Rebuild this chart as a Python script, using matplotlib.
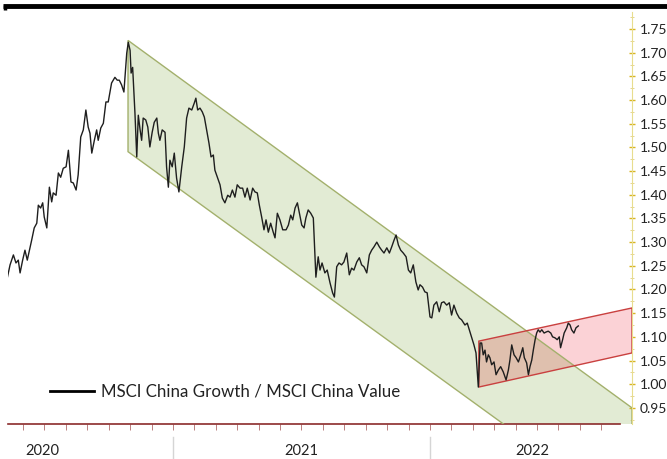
import numpy as np
import matplotlib
matplotlib.use("Agg")
import matplotlib.pyplot as plt
from matplotlib.patches import Polygon
from matplotlib.lines import Line2D

plt.rcParams['font.family'] = ['Lato', 'DejaVu Sans']

# MSCI China Growth / MSCI China Value (x in decimal years)
t = [2020.355, 2020.366, 2020.379, 2020.389, 2020.398, 2020.405, 2020.415, 2020.424, 2020.433, 2020.450,
     2020.460, 2020.470, 2020.476, 2020.485, 2020.493, 2020.499, 2020.509, 2020.519, 2020.528, 2020.534,
     2020.545, 2020.554, 2020.563, 2020.573, 2020.584, 2020.593, 2020.603, 2020.612, 2020.623, 2020.631,
     2020.641, 2020.651, 2020.661, 2020.670, 2020.677, 2020.684, 2020.694, 2020.703, 2020.709, 2020.719,
     2020.729, 2020.739, 2020.748, 2020.761, 2020.774, 2020.783, 2020.791, 2020.800, 2020.809, 2020.820,
     2020.826, 2020.833, 2020.837, 2020.843, 2020.852, 2020.859, 2020.865, 2020.872, 2020.878, 2020.884,
     2020.894, 2020.902, 2020.910, 2020.919, 2020.927, 2020.937, 2020.943, 2020.949, 2020.958, 2020.969,
     2020.975, 2020.982, 2020.988, 2020.997, 2021.005, 2021.014, 2021.023, 2021.034, 2021.044, 2021.053,
     2021.062, 2021.073, 2021.083, 2021.089, 2021.096, 2021.105, 2021.114, 2021.122, 2021.131, 2021.140,
     2021.148, 2021.157, 2021.163, 2021.174, 2021.183, 2021.192, 2021.202, 2021.213, 2021.222, 2021.231,
     2021.241, 2021.250, 2021.261, 2021.271, 2021.280, 2021.289, 2021.300, 2021.310, 2021.319, 2021.328,
     2021.336, 2021.345, 2021.354, 2021.362, 2021.371, 2021.380, 2021.390, 2021.397, 2021.406, 2021.416,
     2021.427, 2021.440, 2021.449, 2021.458, 2021.466, 2021.475, 2021.484, 2021.491, 2021.501, 2021.510,
     2021.517, 2021.526, 2021.536, 2021.546, 2021.556, 2021.565, 2021.572, 2021.580, 2021.591, 2021.600,
     2021.611, 2021.621, 2021.628, 2021.637, 2021.646, 2021.656, 2021.665, 2021.676, 2021.686, 2021.695,
     2021.704, 2021.715, 2021.725, 2021.734, 2021.743, 2021.754, 2021.764, 2021.773, 2021.782, 2021.793,
     2021.803, 2021.812, 2021.821, 2021.832, 2021.842, 2021.851, 2021.860, 2021.868, 2021.877, 2021.886,
     2021.896, 2021.907, 2021.916, 2021.925, 2021.935, 2021.945, 2021.954, 2021.961, 2021.971, 2021.980,
     2021.989, 2022.000, 2022.007, 2022.015, 2022.026, 2022.036, 2022.045, 2022.054, 2022.065, 2022.075,
     2022.084, 2022.093, 2022.104, 2022.114, 2022.123, 2022.136, 2022.145, 2022.153, 2022.162, 2022.171,
     2022.179, 2022.188, 2022.195, 2022.201, 2022.207, 2022.214, 2022.220, 2022.227, 2022.233, 2022.240,
     2022.249, 2022.257, 2022.266, 2022.275, 2022.285, 2022.296, 2022.305, 2022.311, 2022.318, 2022.327,
     2022.335, 2022.344, 2022.353, 2022.361, 2022.367, 2022.376, 2022.383, 2022.389, 2022.396, 2022.402,
     2022.409, 2022.415, 2022.421, 2022.428, 2022.435, 2022.444, 2022.451, 2022.460, 2022.470, 2022.477,
     2022.486, 2022.495, 2022.503, 2022.508, 2022.516, 2022.522, 2022.532, 2022.538, 2022.545, 2022.551,
     2022.560, 2022.568, 2022.577]
ratio = [1.224, 1.252, 1.273, 1.256, 1.262, 1.235, 1.262, 1.283, 1.262, 1.304,
         1.330, 1.340, 1.378, 1.372, 1.383, 1.353, 1.330, 1.416, 1.385, 1.404,
         1.399, 1.446, 1.437, 1.456, 1.459, 1.494, 1.427, 1.425, 1.410, 1.442,
         1.522, 1.537, 1.579, 1.543, 1.530, 1.488, 1.515, 1.537, 1.515, 1.541,
         1.551, 1.596, 1.596, 1.636, 1.648, 1.642, 1.642, 1.632, 1.617, 1.699,
         1.722, 1.705, 1.657, 1.669, 1.572, 1.480, 1.568, 1.537, 1.515, 1.562,
         1.558, 1.543, 1.501, 1.532, 1.553, 1.562, 1.530, 1.515, 1.537, 1.532,
         1.459, 1.416, 1.473, 1.459, 1.488, 1.435, 1.406, 1.459, 1.501, 1.562,
         1.583, 1.579, 1.594, 1.604, 1.579, 1.583, 1.575, 1.564, 1.537, 1.509,
         1.480, 1.484, 1.452, 1.435, 1.421, 1.393, 1.383, 1.399, 1.395, 1.410,
         1.395, 1.421, 1.414, 1.414, 1.395, 1.414, 1.389, 1.414, 1.406, 1.404,
         1.378, 1.353, 1.326, 1.347, 1.321, 1.340, 1.321, 1.309, 1.361, 1.347,
         1.326, 1.326, 1.336, 1.357, 1.347, 1.372, 1.383, 1.364, 1.336, 1.330,
         1.351, 1.368, 1.361, 1.351, 1.226, 1.269, 1.241, 1.256, 1.235, 1.241,
         1.214, 1.193, 1.184, 1.248, 1.256, 1.252, 1.258, 1.277, 1.231, 1.245,
         1.241, 1.258, 1.267, 1.252, 1.248, 1.235, 1.273, 1.283, 1.290, 1.300,
         1.290, 1.283, 1.277, 1.288, 1.277, 1.290, 1.304, 1.315, 1.294, 1.283,
         1.277, 1.269, 1.241, 1.235, 1.252, 1.216, 1.199, 1.210, 1.205, 1.195,
         1.193, 1.142, 1.140, 1.167, 1.174, 1.153, 1.172, 1.174, 1.167, 1.172,
         1.146, 1.167, 1.150, 1.140, 1.136, 1.125, 1.129, 1.115, 1.100, 1.083,
         1.066, 0.994, 1.087, 1.087, 1.062, 1.072, 1.047, 1.062, 1.056, 1.041,
         1.047, 1.020, 1.030, 1.037, 1.026, 1.009, 1.030, 1.051, 1.083, 1.062,
         1.056, 1.047, 1.062, 1.077, 1.056, 1.045, 1.020, 1.037, 1.051, 1.072,
         1.094, 1.108, 1.115, 1.110, 1.115, 1.108, 1.110, 1.112, 1.108, 1.100,
         1.098, 1.094, 1.100, 1.077, 1.094, 1.108, 1.119, 1.129, 1.125, 1.115,
         1.108, 1.119, 1.123]

# channels: (x, y) corners
down_channel = [(2020.825, 1.726), (2022.786, 0.950), (2022.786, 0.719), (2020.825, 1.491)]
up_channel = [(2022.190, 1.091), (2022.786, 1.161), (2022.786, 1.066), (2022.190, 0.994)]

yticks = [0.95, 1.00, 1.05, 1.10, 1.15, 1.20, 1.25, 1.30, 1.35, 1.40, 1.45, 1.50,
          1.55, 1.60, 1.65, 1.70, 1.75]
years = ['2020', '2021', '2022']
year_label_x = [2020.49, 2021.50, 2022.40]

xmin, xmax = 2020.358, 2022.786
ymin, ymax = 0.916, 1.786

fig = plt.figure(figsize=(6.67, 4.59), dpi=100)
ax = fig.add_axes([8 / 667, 0.0763, 624 / 667, 0.8976])

green = Polygon(down_channel, closed=True, facecolor='#e2ebd4', edgecolor='none', zorder=1)
ax.add_patch(green)
ax.add_patch(Polygon(up_channel, closed=True, facecolor='#fbd2d6', edgecolor='none', zorder=2))
overlap = Polygon(up_channel, closed=True, facecolor='#dfc0ae', edgecolor='none', zorder=3)
ax.add_patch(overlap)
overlap.set_clip_path(green)
ax.add_patch(Polygon(down_channel, closed=True, facecolor='none', edgecolor='#a3b06c', lw=1.0, zorder=4))
ax.add_patch(Polygon(up_channel, closed=True, facecolor='none', edgecolor='#c9403f', lw=1.0, zorder=5))

line, = ax.plot(t, ratio, color='#1e1e1e', lw=1.0, zorder=6,
                label='MSCI China Growth / MSCI China Value')

ax.set_xlim(xmin, xmax)
ax.set_ylim(ymin, ymax)

for s in ['left', 'top']:
    ax.spines[s].set_visible(False)
ax.spines['right'].set_color('#e8dd8e')
ax.spines['bottom'].set_color('#8b2b2b')
ax.spines['bottom'].set_linewidth(1.2)
ax.spines['bottom'].set_bounds(xmin, 2022.74)

ax.yaxis.tick_right()
ax.set_yticks(yticks)
ax.set_yticklabels(['%.2f' % v for v in yticks])
ax.set_yticks(np.arange(0.925, 1.79, 0.05), minor=True)
ax.tick_params(axis='y', which='major', direction='inout', length=5, width=1,
               color='#d8b520', labelsize=10, labelcolor='#222222', pad=3)
ax.tick_params(axis='y', which='minor', direction='inout', length=3, width=0.6, color='#e0cf80')

month_ticks = [y + m / 12 for y in (2020, 2021, 2022) for m in range(12)]
month_ticks = [m for m in month_ticks if xmin < m < 2022.74]
ax.set_xticks(month_ticks)
ax.set_xticklabels([])
ax.tick_params(axis='x', direction='out', length=4, width=0.7, color='#b98080')

leg = ax.legend(handles=[line], loc='center left', bbox_to_anchor=((50 - 8) / 624, (424 - 392) / 412),
                frameon=False, fontsize=12.2, handlelength=2.6, handletextpad=0.4,
                borderpad=0, borderaxespad=0)
for h in leg.legend_handles:
    h.set_linewidth(2.0)
    h.set_color('black')
for txt in leg.get_texts():
    txt.set_color('#222222')

# year separators and labels below the axis
for xb in (2021.0, 2022.0):
    xf = ax.transData.transform((xb, ymin))[0] / fig.bbox.width
    fig.add_artist(Line2D([xf, xf], [0.0, 0.048], color='#d5d5d5', lw=1.0))
for yl, xl in zip(years, year_label_x):
    ax.text(xl, -0.065, yl, transform=ax.get_xaxis_transform(), ha='center', va='center',
            fontsize=10.5, color='#222222')

# heavy rule across the top
fig.add_artist(Line2D([0.0045, 1.0], [0.9865, 0.9865], color='black', lw=3.5, solid_capstyle='butt'))
fig.add_artist(Line2D([0.0075, 0.0075], [0.978, 0.99], color='black', lw=2.5, solid_capstyle='butt'))

fig.savefig('out.png', dpi=100)
